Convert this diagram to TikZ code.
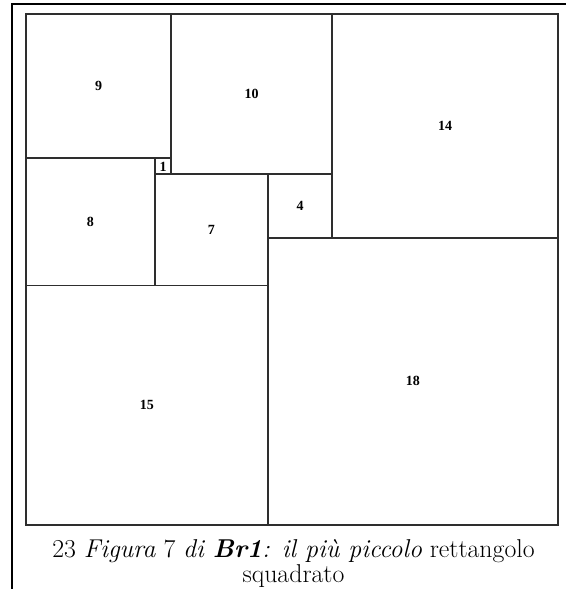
\documentclass[tikz,border=0pt]{standalone}
\usepackage{fontspec}
\newfontfamily\labelfont{Liberation Serif}
\begin{document}
\begin{tikzpicture}[
  sq/.style={draw=black!82, line width=1.9pt},
  lab/.style={font=\labelfont\bfseries\fontsize{14}{16}\selectfont, inner sep=0pt},
  frameline/.style={line width=2.2pt, black}
]
\useasboundingbox (0,0) rectangle (565pt,-589pt);
% outer frame
\coordinate (ftl) at (12pt,-4.3pt);
\coordinate (ftr) at (566pt,-4.3pt);
\coordinate (fbl) at (12pt,-590pt);
\draw[frameline] (ftr) -- (ftl) -- (fbl);
\begin{scope}[shift={(26pt,-14pt)}, x=16.121pt, y=-15.969pt]
  \draw[sq] (0,0) rectangle (9,9);
  \draw[sq] (9,0) rectangle (19,10);
  \draw[sq] (19,0) rectangle (33,14);
  \draw[sq] (8,9) rectangle (9,10);
  \draw[sq] (0,9) rectangle (8,17);
  \draw[sq] (8,10) rectangle (15,17);
  \draw[sq] (15,10) rectangle (19,14);
  \draw[sq] (0,17) rectangle (15,32);
  \draw[sq] (15,14) rectangle (33,32);
  \node[lab] (n9) at (4.5,4.5) {9};
  \node[lab] (n10) at (14,5) {10};
  \node[lab] (n14) at (26,7) {14};
  \node[lab] (n1) at (8.5,9.55) {1};
  \node[lab] (n8) at (4,13) {8};
  \node[lab] (n7) at (11.5,13.5) {7};
  \node[lab] (n4) at (17,12) {4};
  \node[lab] (n15) at (7.5,24.5) {15};
  \node[lab] (n18) at (24,23) {18};
\end{scope}
\node[font=\fontsize{25.8}{25}\selectfont, align=center, inner sep=0pt, anchor=base] (cap) at (293.5pt,-582pt)
  {23 \textit{Figura} 7 \textit{di} \textbf{\textit{Br1}}\textit{: il più piccolo} rettangolo\\ squadrato};
\end{tikzpicture}
\end{document}
